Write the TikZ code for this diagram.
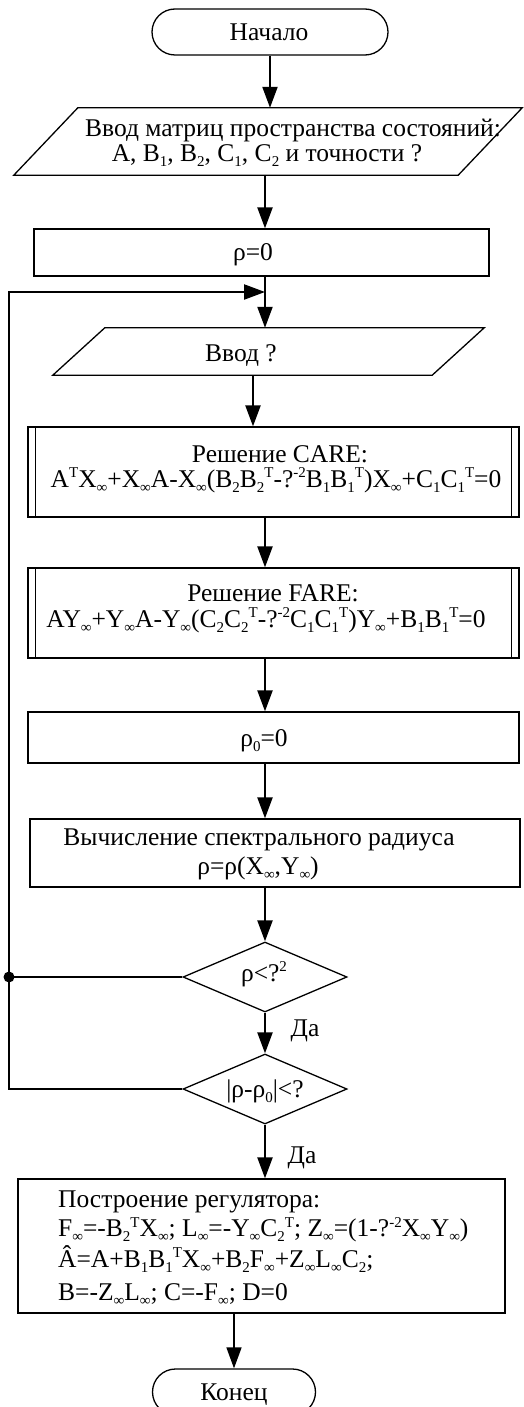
\documentclass[tikz,border=0pt]{standalone}
\usepackage{fontspec}
\setmainfont{Liberation Serif}
\usetikzlibrary{arrows.meta,shapes.geometric,calc}
\newcommand\sbs[1]{\raisebox{-0.2em}[0pt][0pt]{\fontsize{15}{15}\selectfont #1}}
\newcommand\sps[1]{\raisebox{0.36em}[0pt][0pt]{\fontsize{15}{15}\selectfont #1}}
\begin{document}
\begin{tikzpicture}[x=1pt,y=-1pt,
  every node/.style={font=\fontsize{25.5}{29}\selectfont, inner sep=0pt},
  txt/.style={anchor=base},
  ltxt/.style={anchor=base west},
  box/.style={draw, line width=1.3pt, minimum width=#1},
  term/.style={draw, line width=1.3pt, rounded corners=23pt, minimum height=46pt},
  dia/.style={draw, diamond, line width=1.3pt, minimum width=164pt, minimum height=70pt},
  arr/.style={line width=2.2pt, -{Triangle[length=21pt,width=15pt]}},
  loopline/.style={line width=1.7pt}]
\useasboundingbox (0,0) rectangle (524,1407);
\coordinate (col) at (265,0);
\coordinate (col2) at (253,0);

% start
\node[term, minimum width=236pt] (start) at (270,32) {};
\node[txt] (tstart) at (269,41) {Начало};

% input 1 parallelogram
\node[minimum width=508pt, minimum height=67pt] (in1) at (268,141.5) {};
\draw[line width=1.3pt] (in1.south west) -- ($(in1.north west)+(64,0)$) -- (in1.north east) -- ($(in1.south east)-(64,0)$) -- cycle;
\node[txt] (t1a) at (293,136.5) {Ввод матриц пространства состояний:};
\node[txt] (t1b) at (267,161.5) {A, B\sbs{1}, B\sbs{2}, C\sbs{1}, C\sbs{2} и точности ?};

% rho = 0
\node[box=455pt, minimum height=47pt] (r0) at (261.5,252.5) {};
\node[txt] (tr0) at (253,260) {ρ=0};

% input 2 parallelogram
\node[minimum width=431pt, minimum height=47pt] (in2) at (268.5,351.5) {};
\draw[line width=1.3pt] (in2.south west) -- ($(in2.north west)+(52,0)$) -- (in2.north east) -- ($(in2.south east)-(52,0)$) -- cycle;
\node[txt] (tin2) at (241,361) {Ввод ?};

% CARE
\node[box=491pt, minimum height=90pt] (care) at (273.5,472) {};
\draw[line width=1.3pt] ([xshift=8pt]care.north west) -- ([xshift=8pt]care.south west);
\draw[line width=1.3pt] ([xshift=-8pt]care.north east) -- ([xshift=-8pt]care.south east);
\node[txt] (tcare1) at (280,462) {Решение CARE:};
\node[txt] (tcare2) at (276,487) {A\sps{T}X\sbs{∞}+X\sbs{∞}A-X\sbs{∞}(B\sbs{2}B\sbs{2}\sps{T}-?\sps{-2}B\sbs{1}B\sbs{1}\sps{T})X\sbs{∞}+C\sbs{1}C\sbs{1}\sps{T}=0};

% FARE
\node[box=491pt, minimum height=90pt] (fare) at (273.5,613) {};
\draw[line width=1.3pt] ([xshift=8pt]fare.north west) -- ([xshift=8pt]fare.south west);
\draw[line width=1.3pt] ([xshift=-8pt]fare.north east) -- ([xshift=-8pt]fare.south east);
\node[txt] (tfare1) at (273,601.5) {Решение FARE:};
\node[txt] (tfare2) at (266,627) {AY\sbs{∞}+Y\sbs{∞}A-Y\sbs{∞}(C\sbs{2}C\sbs{2}\sps{T}-?\sps{-2}C\sbs{1}C\sbs{1}\sps{T})Y\sbs{∞}+B\sbs{1}B\sbs{1}\sps{T}=0};

% rho0 = 0
\node[box=491pt, minimum height=51pt] (r00) at (273.5,737.5) {};
\node[txt] (tr00) at (264,746) {ρ\sbs{0}=0};

% spectral radius
\node[box=490pt, minimum height=68pt] (spec) at (275,853) {};
\node[txt] (tspec1) at (259,845.5) {Вычисление спектрального радиуса};
\node[txt] (tspec2) at (258,874) {ρ=ρ(X\sbs{∞},Y\sbs{∞})};

% decisions
\node[dia] (d1) at (265,977) {};
\node[txt] (td1) at (264,981) {ρ<?\sps{2}};
\node[dia] (d2) at (265,1089) {};
\node[txt] (td2) at (265,1097) {|ρ-ρ\sbs{0}|<?};

% final box
\node[box=487pt, minimum height=134pt] (fin) at (261.5,1246) {};
\node[ltxt] (tf1) at (58,1207.5) {Построение регулятора:};
\node[ltxt] (tf2) at (58,1236.5) {F\sbs{∞}=-B\sbs{2}\sps{T}X\sbs{∞}; L\sbs{∞}=-Y\sbs{∞}C\sbs{2}\sps{T}; Z\sbs{∞}=(1-?\sps{-2}X\sbs{∞}Y\sbs{∞})};
\node[ltxt] (tf3) at (58,1267) {Â=A+B\sbs{1}B\sbs{1}\sps{T}X\sbs{∞}+B\sbs{2}F\sbs{∞}+Z\sbs{∞}L\sbs{∞}C\sbs{2};};
\node[ltxt] (tf4) at (58,1300) {B=-Z\sbs{∞}L\sbs{∞}; C=-F\sbs{∞}; D=0};

% end
\node[term, minimum width=163pt] (end) at (234,1392) {};
\node[txt] (tend) at (234,1400) {Конец};

% connectors
\draw[arr] (start.south) -- (start.south |- in1.north);
\draw[arr] (in1.south -| col) -- (r0.north -| col);
\draw[arr] (r0.south -| col) -- (in2.north -| col);
\draw[arr] (in2.south -| col2) -- (care.north -| col2);
\draw[arr] (care.south -| col) -- (fare.north -| col);
\draw[arr] (fare.south -| col) -- (r00.north -| col);
\draw[arr] (r00.south -| col) -- (spec.north -| col);
\draw[arr] (spec.south -| col) -- (d1.north);
\draw[arr] (d1.south) -- (d2.north);
\node[txt] (da1) at (305,1036.5) {Да};
\draw[arr] (d2.south) -- (fin.north -| d2.south);
\node[txt] (da2) at (302,1163.5) {Да};
\draw[arr, line width=1.6pt] (fin.south -| end.north) -- (end.north);

% loop back
\coordinate (dot) at (9,977);
\coordinate (lpb) at (9,1089);
\coordinate (lpt) at (9,292);
\coordinate (join) at (265,292);
\draw[loopline] (d1.west) -- (dot);
\draw[loopline] (d2.west) -- (lpb) -- (lpt);
\draw[arr] ([xshift=-0.85pt]lpt) -- (join);
\fill (dot) circle (5.5pt);
\end{tikzpicture}
\end{document}
